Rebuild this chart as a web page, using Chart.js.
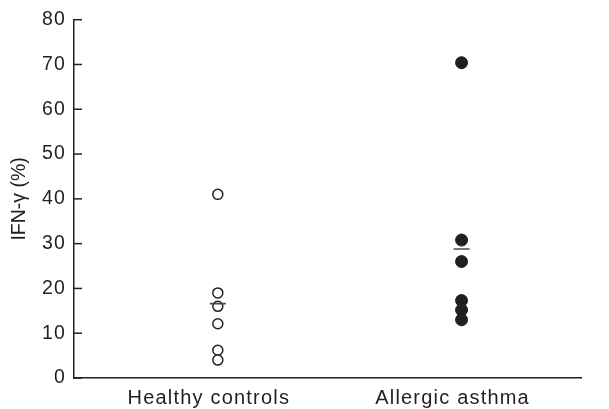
<!DOCTYPE html>
<html>
<head>
<meta charset="utf-8">
<script src="https://cdn.jsdelivr.net/npm/chart.js@4.4.1/dist/chart.umd.min.js"></script>
<style>
  html, body { margin: 0; padding: 0; background: #ffffff; }
  #wrap { width: 609px; height: 409px; position: relative; }
</style>
</head>
<body>
<div id="wrap"><canvas id="c" width="609" height="409"></canvas></div>
<script>
// ---- data ----
const categories = ["Healthy controls", "Allergic asthma"];
const healthyValues = [41.0, 19.0, 16.0, 12.1, 6.2, 4.0];
const asthmaValues = [70.4, 30.8, 26.0, 17.3, 15.2, 13.0];
const meanValues = [16.6, 28.8];
const yTickValues = [0, 10, 20, 30, 40, 50, 60, 70, 80];
const yTitle = "IFN-\u03b3 (%)";

const ink = "#231f20";
const font = "'Liberation Sans', Arial, Helvetica, sans-serif";

const healthyData = healthyValues.map(v => ({ x: 1, y: v }));
const asthmaData = asthmaValues.map(v => ({ x: 2, y: v }));
const meanData = meanValues.map((v, i) => ({ x: i + 1, y: v }));

// inward tick marks on the y axis (positions come from the scale) + wider tracking for tick labels
const axisStyle = {
  id: 'axisStyle',
  afterDatasetsDraw(chart) {
    const y = chart.scales.y;
    const ctx = chart.ctx;
    ctx.save();
    ctx.strokeStyle = ink;
    ctx.lineWidth = 1.5;
    const x0 = y.right;
    yTickValues.forEach(v => {
      const py = y.getPixelForValue(v);
      ctx.beginPath();
      ctx.moveTo(x0, py);
      ctx.lineTo(x0 + 8, py);
      ctx.stroke();
    });
    ctx.restore();
    ctx.letterSpacing = '1.2px';
  },
  afterDraw(chart) {
    chart.ctx.letterSpacing = '0px';
  }
};

new Chart(document.getElementById('c'), {
  type: 'scatter',
  data: {
    datasets: [
      {
        label: 'Mean',
        data: meanData,
        pointStyle: 'line',
        radius: 8,
        hoverRadius: 8,
        borderColor: '#4a4a4a',
        borderWidth: 1.6,
        backgroundColor: '#4a4a4a'
      },
      {
        label: categories[0],
        data: healthyData,
        pointStyle: 'circle',
        radius: 5,
        hoverRadius: 5,
        backgroundColor: '#ffffff',
        borderColor: ink,
        borderWidth: 1.5
      },
      {
        label: categories[1],
        data: asthmaData,
        pointStyle: 'circle',
        radius: 6,
        hoverRadius: 6,
        backgroundColor: ink,
        borderColor: ink,
        borderWidth: 1
      }
    ]
  },
  options: {
    responsive: false,
    animation: false,
    devicePixelRatio: 1,
    layout: { padding: { left: 0, top: 17, right: 28, bottom: 0 } },
    plugins: { legend: { display: false }, tooltip: { enabled: false } },
    scales: {
      x: {
        type: 'linear',
        min: 0.41,
        max: 2.49,
        afterBuildTicks(scale) { scale.ticks = [{ value: 1 }, { value: 2 }]; },
        afterFit(scale) { scale.height = 31; },
        ticks: {
          callback: v => categories[Math.round(v) - 1],
          color: ink,
          font: { family: font, size: 20 },
          padding: 8,
          labelOffset: -9,
          maxRotation: 0,
          z: 1
        },
        grid: { display: false, drawTicks: false },
        border: { display: true, color: ink, width: 1.5 }
      },
      y: {
        min: 0,
        max: 80,
        afterBuildTicks(scale) { scale.ticks = yTickValues.map(v => ({ value: v })); },
        afterFit(scale) { scale.width = 74; },
        ticks: {
          color: ink,
          font: { family: font, size: 19.5 },
          padding: 8,
          z: 1
        },
        grid: { display: false, drawTicks: false },
        border: { display: true, color: ink, width: 1.5 },
        title: {
          display: true,
          text: yTitle,
          color: ink,
          font: { family: font, size: 19.5 },
          padding: { top: 8, bottom: 0 }
        }
      }
    }
  },
  plugins: [axisStyle]
});
</script>
</body>
</html>
